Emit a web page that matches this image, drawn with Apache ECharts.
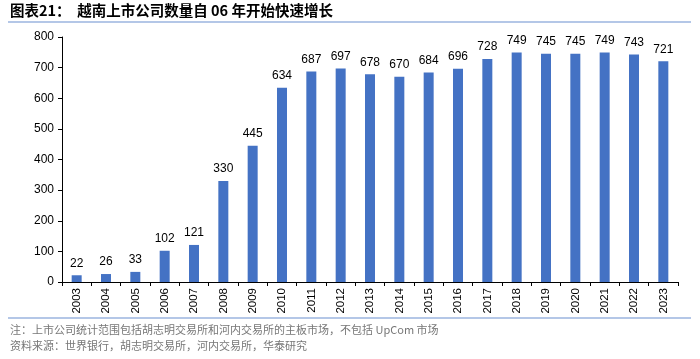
<!DOCTYPE html>
<html><head><meta charset="utf-8">
<script src="https://cdn.jsdelivr.net/npm/echarts@6/dist/echarts.min.js"></script>
<style>html,body{margin:0;padding:0;background:#fff}#c{width:700px;height:359px}</style>
</head><body><div id="c"></div>
<script>
const years = ['2003','2004','2005','2006','2007','2008','2009','2010','2011','2012','2013','2014','2015','2016','2017','2018','2019','2020','2021','2022','2023'];
const counts = [22,26,33,102,121,330,445,634,687,697,678,670,684,696,728,749,745,745,749,743,721];
const title = '图表21：  越南上市公司数量自 06 年开始快速增长';
const note1 = '注：上市公司统计范围包括胡志明交易所和河内交易所的主板市场，不包括 UpCom 市场';
const note2 = '资料来源：世界银行，胡志明交易所，河内交易所，华泰研究';

const chart = echarts.init(document.getElementById('c'));
chart.setOption({
  animation: false,
  grid: {left: 62, right: 22, top: 37, bottom: 77},
  xAxis: {
    type: 'category', data: years,
    axisLine: {lineStyle: {color: '#000', width: 1}},
    axisTick: {show: true, length: 4, lineStyle: {color: '#000'}},
    axisLabel: {rotate: 90, color: '#000', fontSize: 11.5, fontFamily: 'Liberation Sans', margin: 6}
  },
  yAxis: {
    type: 'value', min: 0, max: 800, interval: 100,
    splitLine: {show: false},
    axisLine: {show: true, lineStyle: {color: '#000', width: 1}},
    axisTick: {show: true, length: 4, lineStyle: {color: '#000'}},
    axisLabel: {color: '#000', fontSize: 12, fontFamily: 'Liberation Sans', margin: 8}
  },
  series: [{
    type: 'bar', data: counts, barWidth: 10,
    itemStyle: {color: '#4472C4'},
    label: {show: true, position: 'top', distance: 6, color: '#000', fontSize: 12, fontFamily: 'Liberation Sans'}
  }],
  graphic: [
    {type: 'text', left: 10, top: 3, style: {text: title, fontSize: 14.5, fontWeight: 'bold', fill: '#000', fontFamily: 'Noto Sans CJK SC'}},
    {type: 'rect', shape: {x: 8, y: 21, width: 683, height: 2}, style: {fill: '#b4c7e7'}},
    {type: 'rect', shape: {x: 8, y: 317, width: 683, height: 2}, style: {fill: '#b4c7e7'}},
    {type: 'text', left: 10, top: 324, style: {text: note1, fontSize: 11, fill: '#777', fontFamily: 'Noto Sans CJK SC'}},
    {type: 'text', left: 10, top: 340, style: {text: note2, fontSize: 11, fill: '#777', fontFamily: 'Noto Sans CJK SC'}}
  ]
});
</script></body></html>
